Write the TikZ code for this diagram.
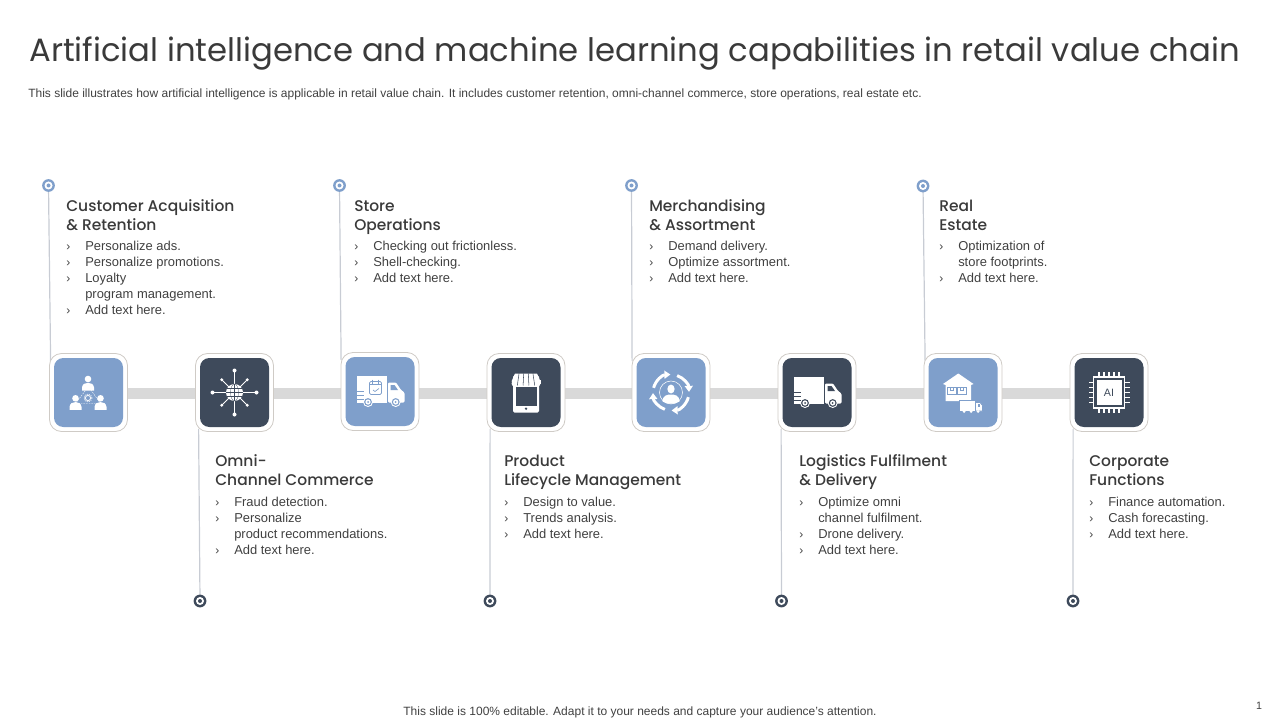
\documentclass[tikz,border=0pt]{standalone}
\usepackage{fontspec}
\usetikzlibrary{arrows.meta,backgrounds,calc}
\setmainfont{Liberation Sans}
\newfontfamily\titlef{Poppins}
\newfontfamily\headf{Poppins Medium}
\definecolor{tblue}{HTML}{7F9FCB}
\definecolor{tdark}{HTML}{3E4A5B}
\definecolor{txt}{HTML}{404040}
\definecolor{hd}{HTML}{3A3A3A}
\definecolor{barc}{HTML}{D9D9D9}
\definecolor{linec}{HTML}{C8CCD4}
\definecolor{framec}{HTML}{CFCBC6}
\tikzset{
  x=0.75pt,y=-0.75pt,
  frame/.style={draw=framec,line width=0.6pt,fill=white,rounded corners=9pt,minimum size=58.5pt,inner sep=0pt},
  inblue/.style={fill=tblue,rounded corners=7pt,minimum size=51.75pt,inner sep=0pt},
  indark/.style={fill=tdark,rounded corners=7pt,minimum size=51.75pt,inner sep=0pt},
  barline/.style={draw=barc,line width=8.2pt},
  vline/.style={draw=linec,line width=0.9pt},
  dotblue/.style={circle,fill=tblue,minimum size=9.6pt,inner sep=0pt},
  dotdark/.style={circle,fill=tdark,minimum size=9.6pt,inner sep=0pt},
  head/.style={anchor=north west,inner sep=0pt,align=left,text=hd,font=\headf\fontsize{11.6pt}{14.25pt}\selectfont},
  body/.style={anchor=north west,inner sep=0pt,align=left,text=txt,font=\fontsize{9.7pt}{12pt}\selectfont},
}
\newcommand{\hs}{\rule{0pt}{10.5pt}}
\newcommand{\bs}{\rule{0pt}{8pt}}
\newcommand{\bit}[1]{\makebox[14.25pt][l]{\fontsize{9pt}{12pt}\selectfont ›}#1}
\newcommand{\bcont}[1]{\hspace*{14.25pt}#1}
% person: centre of head at x,y
\newcommand{\personic}[2]{%
  \fill[white] (#1,#2) circle (3.3);
  \fill[white] (#1-6,#2+11.5) -- (#1-6,#2+8.5) .. controls (#1-5.5,#2+5) and (#1-3,#2+3.8) .. (#1,#2+3.8) .. controls (#1+3,#2+3.8) and (#1+5.5,#2+5) .. (#1+6,#2+8.5) -- (#1+6,#2+11.5) -- cycle;
}
\newcommand{\truckic}[1]{%
  \fill[white] (-23.5,-15.5) rectangle (7,11);
  \fill[white,rounded corners=0.8pt] (8,-9) -- (16,-9) -- (21,-1.5) -- (24.5,1) -- (24.5,11) -- (8,11) -- cycle;
  \fill[#1] (10.5,-6.5) -- (14.5,-6.5) -- (18,-1.5) -- (10.5,-1.5) -- cycle;
  \foreach \wx in {-12,15.7} {
    \fill[white] (\wx,10.5) circle (5);
    \fill[#1] (\wx,10.5) circle (3.9);
    \fill[white] (\wx,10.5) circle (2.6);
    \fill[#1] (\wx,10.5) circle (1);
  }
  \foreach \sy in {-1,3,7} { \fill[#1] (-24,\sy) rectangle (-16.5,\sy+1.1); }
}
\begin{document}
\begin{tikzpicture}
\useasboundingbox (0,0) rectangle (1280,720);

\node[anchor=west,inner sep=0pt,text=hd,font=\titlef\fontsize{24.2pt}{30pt}\selectfont] (title) at (29,54) {Artificial intelligence and machine learning capabilities in retail value chain};
\node[anchor=west,inner sep=0pt,text=txt,font=\fontsize{9pt}{10pt}\selectfont] (sub) at (28,94) {This slide illustrates how artificial intelligence is applicable in retail value chain. It includes customer retention, omni-channel commerce, store operations, real estate etc.};
\node[anchor=center,inner sep=0pt,text=txt,font=\fontsize{9pt}{10pt}\selectfont] (foot) at (640,712.5) {This slide is 100\% editable. Adapt it to your needs and capture your audience's attention.};
\node[anchor=center,inner sep=0pt,text=txt,font=\fontsize{8pt}{10pt}\selectfont] (pg) at (1259,706) {1};

% tiles
\node[frame] (t1) at (88.5,392.5) {};
\node[frame] (t2) at (234.5,392.5) {};
\node[frame] (t3) at (380,391.5) {};
\node[frame] (t4) at (526,392.5) {};
\node[frame] (t5) at (671,392.5) {};
\node[frame] (t6) at (817,392.5) {};
\node[frame] (t7) at (963,392.5) {};
\node[frame] (t8) at (1109,392.5) {};
\node[inblue] (i1) at (t1) {};
\node[indark] (i2) at (t2) {};
\node[inblue] (i3) at (t3) {};
\node[indark] (i4) at (t4) {};
\node[inblue] (i5) at (t5) {};
\node[indark] (i6) at (t6) {};
\node[inblue] (i7) at (t7) {};
\node[indark] (i8) at (t8) {};

% dots
\node[dotblue] (d1) at (48.5,185.5) {};
\node[dotdark] (d2) at (200,601) {};
\node[dotblue] (d3) at (339.5,185.5) {};
\node[dotdark] (d4) at (490,601) {};
\node[dotblue] (d5) at (631.5,185.5) {};
\node[dotdark] (d6) at (781.5,601) {};
\node[dotblue] (d7) at (923,186) {};
\node[dotdark] (d8) at (1073,601) {};
\foreach \d/\c in {d1/tblue,d2/tdark,d3/tblue,d4/tdark,d5/tblue,d6/tdark,d7/tblue,d8/tdark}{
  \fill[white] (\d) circle (4);
  \fill[\c] (\d) circle (2);
}

\begin{scope}[on background layer]
  \draw[barline] ($(t1.center)+(0,1)$) -- ($(t2.center)+(0,1)$);
  \draw[barline] ($(t2.center)+(0,1)$) -- ($(t3.center)+(0,2)$);
  \draw[barline] ($(t3.center)+(0,2)$) -- ($(t4.center)+(0,1)$);
  \draw[barline] ($(t4.center)+(0,1)$) -- ($(t5.center)+(0,1)$);
  \draw[barline] ($(t5.center)+(0,1)$) -- ($(t6.center)+(0,1)$);
  \draw[barline] ($(t6.center)+(0,1)$) -- ($(t7.center)+(0,1)$);
  \draw[barline] ($(t7.center)+(0,1)$) -- ($(t8.center)+(0,1)$);
  \draw[vline] (d1.center) -- ($(t1.north west)+(1.5,8)$);
  \draw[vline] (d3.center) -- ($(t3.north west)+(0.5,8)$);
  \draw[vline] (d5.center) -- ($(t5.north west)+(0.5,8)$);
  \draw[vline] (d7.center) -- ($(t7.north west)+(1.5,8)$);
  \draw[vline] ($(t2.south west)+(3.5,-3)$) -- (d2.center);
  \draw[vline] ($(t4.south west)+(3.5,-3)$) -- (d4.center);
  \draw[vline] ($(t6.south west)+(3.5,-3)$) -- (d6.center);
  \draw[vline] ($(t8.south west)+(3.5,-3)$) -- (d8.center);
\end{scope}

% icon 1: team
\begin{scope}[shift={(t1.center)}]
  \draw[white,line width=0.3pt,dash pattern=on 1.2pt off 0.8pt] (0,-6) -- (-13,11) -- (12,11) -- cycle;
  \personic{-0.5}{-13.5}
  \personic{-13}{5.8}
  \personic{12}{5.8}
  \fill[tblue] (-0.5,5.5) circle (4.5);
  \draw[white,line width=0.6pt] (-0.5,5.5) circle (2.6);
  \draw[white,line width=0.5pt,dash pattern=on 0.8pt off 0.8pt] (-0.5,5.5) circle (4);
\end{scope}

% icon 2: network globe
\begin{scope}[shift={(t2.center)}]
  \foreach \a in {0,90,180,270}{
    \draw[white,line width=0.6pt] (0,0) -- (\a:22);
    \fill[white] (\a:22) circle (2);
  }
  \foreach \a in {45,135,225,315}{
    \draw[white,line width=0.6pt] (0,0) -- (\a:18);
    \fill[white] (\a:18) circle (1.6);
  }
  \fill[white] (0,0) circle (8.5);
  \draw[tdark,line width=0.2pt] (0,-8.5) -- (0,8.5) (-8.5,0) -- (8.5,0) (-7.5,-4) -- (7.5,-4) (-7.5,4) -- (7.5,4);
  \draw[tdark,line width=0.2pt] (0,0) ellipse (4 and 8.5);
\end{scope}

% icon 3: delivery truck with clipboard
\begin{scope}[shift={(t3.center)}]
  \truckic{tblue}
  \draw[tblue,line width=0.5pt,rounded corners=1pt] (-10.5,-10) rectangle (1.5,3);
  \draw[tblue,line width=0.5pt] (-7.5,-12) -- (-7.5,-8) (-1.5,-12) -- (-1.5,-8) (-10.5,-7) -- (1.5,-7);
  \draw[tblue,line width=0.5pt] (-7,-1.5) -- (-5,0) -- (-1,-3);
\end{scope}

% icon 4: tablet store
\begin{scope}[shift={(t4.center)}]
  \fill[white,rounded corners=1pt] (-13,-17) rectangle (13,20);
  \fill[tdark] (-10.5,-6) rectangle (10.5,13);
  \fill[tdark] (0,16.2) circle (1.3);
  \fill[white] (-11,-19) -- (11,-19) -- (14.5,-11) -- (-14.5,-11) -- cycle;
  \foreach \k in {-11.6,-5.8,0,5.8,11.6}{
    \fill[white] (\k-2.9,-13) rectangle (\k+2.9,-9);
    \fill[white] (\k,-9) circle (2.9);
  }
  \foreach \k in {-8.7,-2.9,2.9,8.7}{
    \draw[tdark,line width=0.4pt] (\k*0.8,-19) -- (\k,-7);
  }
\end{scope}

% icon 5: person in rotating arrows
\begin{scope}[shift={(t5.center)}]
  \foreach \s/\e in {195/268,290/358,15/88,110/178}{
    \draw[white,line width=2.2pt,-{Triangle[length=4.5pt,width=6pt]}] (\s:18) arc (\s:\e:18);
  }
  \draw[white,line width=0.4pt] (0,0) circle (11.5);
  \fill[white] (0,-3.5) ellipse (3.6 and 4.5);
  \fill[white] (-8.5,9) .. controls (-8.5,3) and (-4,2) .. (0,2) .. controls (4,2) and (8.5,3) .. (8.5,9) .. controls (4,12) and (-4,12) .. (-8.5,9) -- cycle;
\end{scope}

% icon 6: truck
\begin{scope}[shift={(t6.center)}]
  \truckic{tdark}
\end{scope}

% icon 7: warehouse and small truck
\begin{scope}[shift={(t7.center)}]
  \fill[white] (-4.7,-19) -- (10.5,-8.5) -- (8,-7.5) -- (8,8.5) -- (-17.5,8.5) -- (-17.5,-7.5) -- (-20,-8.5) -- cycle;
  \draw[tblue,line width=0.4pt] (-15.5,-5) rectangle (-7,2) (-6,-5) rectangle (3,2);
  \draw[tblue,line width=0.4pt] (-13,-5) -- (-13,-2) -- (-10,-2) -- (-10,-5) (-3,-5) -- (-3,-2) -- (0,-2) -- (0,-5);
  \fill[white,draw=tblue,line width=0.5pt] (-3.5,7.5) rectangle (12,18.5);
  \fill[white,draw=tblue,line width=0.5pt] (12.5,10) -- (17,10) -- (19.5,13) -- (19.5,18.5) -- (12.5,18.5) -- cycle;
  \fill[tblue] (14.5,11.8) rectangle (17,14);
  \fill[white] (1,19) circle (1.5) (8,19) circle (1.5) (15,19) circle (1.5);
\end{scope}

% icon 8: chip
\begin{scope}[shift={(t8.center)}]
  \draw[white,line width=1pt] (-15.5,-15.5) rectangle (15.5,15.5);
  \fill[white] (-12.5,-12.5) rectangle (12.5,12.5);
  \foreach \k in {-10,-5,0,5,10}{
    \draw[white,line width=1pt] (\k,-15.5) -- (\k,-20.5) (\k,15.5) -- (\k,20.5) (-15.5,\k) -- (-20.5,\k) (15.5,\k) -- (20.5,\k);
  }
  \node[inner sep=0pt,text=tdark,font=\fontsize{8pt}{9pt}\selectfont] (ai) at (0,0) {AI};
\end{scope}

% text blocks
\node[head] (h1) at (66,197.5) {\hs Customer Acquisition\\\& Retention};
\node[body] (b1) at (66,240) {\bs\bit{Personalize ads.}\\\bit{Personalize promotions.}\\\bit{Loyalty}\\\bcont{program management.}\\\bit{Add text here.}};
\node[head] (h3) at (354,197.5) {\hs Store\\Operations};
\node[body] (b3) at (354,240) {\bs\bit{Checking out frictionless.}\\\bit{Shell-checking.}\\\bit{Add text here.}};
\node[head] (h5) at (649,197.5) {\hs Merchandising\\\& Assortment};
\node[body] (b5) at (649,240) {\bs\bit{Demand delivery.}\\\bit{Optimize assortment.}\\\bit{Add text here.}};
\node[head] (h7) at (939,197.5) {\hs Real\\Estate};
\node[body] (b7) at (939,240) {\bs\bit{Optimization of}\\\bcont{store footprints.}\\\bit{Add text here.}};
\node[head] (h2) at (215,452.5) {\hs Omni-\\Channel Commerce};
\node[body] (b2) at (215,496) {\bs\bit{Fraud detection.}\\\bit{Personalize}\\\bcont{product recommendations.}\\\bit{Add text here.}};
\node[head] (h4) at (504,452.5) {\hs Product\\Lifecycle Management};
\node[body] (b4) at (504,496) {\bs\bit{Design to value.}\\\bit{Trends analysis.}\\\bit{Add text here.}};
\node[head] (h6) at (799,452.5) {\hs Logistics Fulfilment\\\& Delivery};
\node[body] (b6) at (799,496) {\bs\bit{Optimize omni}\\\bcont{channel fulfilment.}\\\bit{Drone delivery.}\\\bit{Add text here.}};
\node[head] (h8) at (1089,452.5) {\hs Corporate\\Functions};
\node[body] (b8) at (1089,496) {\bs\bit{Finance automation.}\\\bit{Cash forecasting.}\\\bit{Add text here.}};
\end{tikzpicture}
\end{document}
